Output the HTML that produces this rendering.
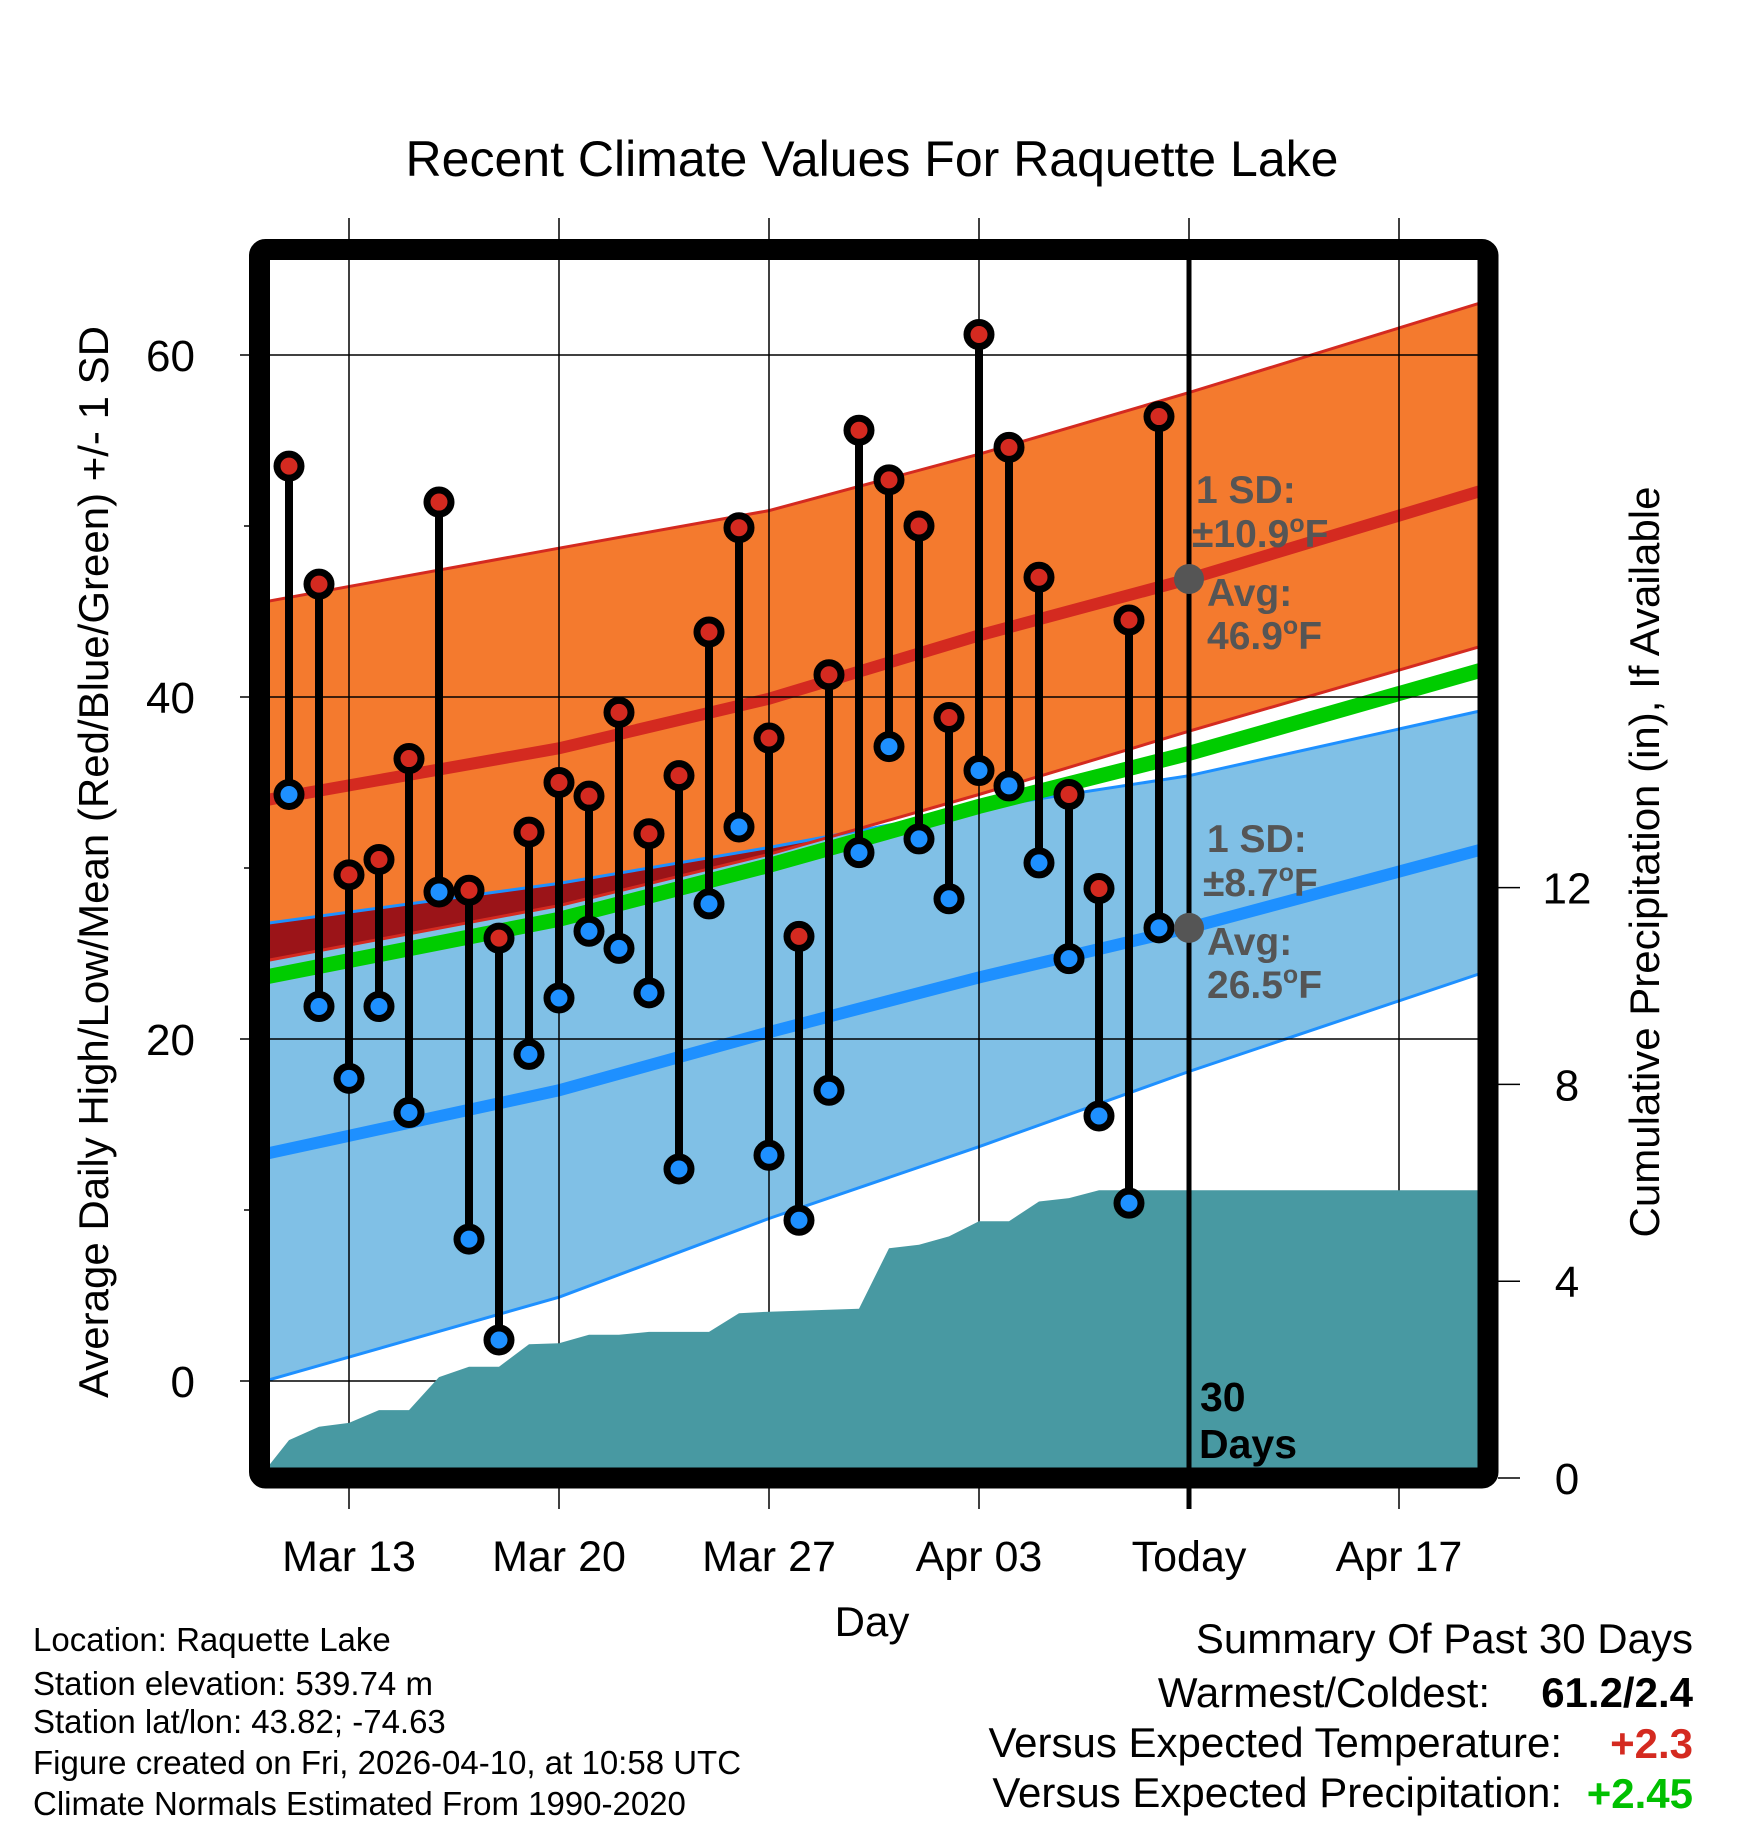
<!DOCTYPE html>
<html><head><meta charset="utf-8">
<style>
html,body{margin:0;padding:0;background:#fff;}
svg{display:block;font-family:"Liberation Sans",Arial,sans-serif;}
</style></head>
<body>
<svg id="chart" width="1748" height="1828" viewBox="0 0 1748 1828" xmlns="http://www.w3.org/2000/svg">
<defs>
<clipPath id="plotClip"><rect x="270" y="260" width="1208" height="1208"/></clipPath>
</defs>
<text x="872" y="176" font-size="50" text-anchor="middle">Recent Climate Values For Raquette Lake</text>
<g id="bands" clip-path="url(#plotClip)"></g>
<g id="grid"></g>
<g id="precip" clip-path="url(#plotClip)"></g>
<g id="today"></g>
<g id="stems"></g>
<g id="annot"></g>
<rect x="259.5" y="249.5" width="1228.5" height="1228.5" rx="6" fill="none" stroke="#000" stroke-width="21"/>
<g id="axes"></g>
<text x="872" y="1636" font-size="42" text-anchor="middle">Day</text>
<text transform="translate(108,862) rotate(-90)" font-size="42" text-anchor="middle">Average Daily High/Low/Mean (Red/Blue/Green) +/- 1 SD</text>
<text transform="translate(1659,862) rotate(-90)" font-size="42" text-anchor="middle">Cumulative Precipitation (in), If Available</text>
<g font-size="33">
<text x="33" y="1651">Location: Raquette Lake</text>
<text x="33" y="1695">Station elevation: 539.74 m</text>
<text x="33" y="1733">Station lat/lon: 43.82; -74.63</text>
<text x="33" y="1774">Figure created on Fri, 2026-04-10, at 10:58 UTC</text>
<text x="33" y="1815">Climate Normals Estimated From 1990-2020</text>
</g>
<g font-size="42">
<text x="1693" y="1653" text-anchor="end">Summary Of Past 30 Days</text>
<text x="1490" y="1707" text-anchor="end">Warmest/Coldest:</text>
<text x="1693" y="1707" text-anchor="end" font-weight="bold">61.2/2.4</text>
<text x="1562" y="1757" text-anchor="end">Versus Expected Temperature:</text>
<text x="1693" y="1758" text-anchor="end" font-weight="bold" fill="#d42a20">+2.3</text>
<text x="1562" y="1807" text-anchor="end">Versus Expected Precipitation:</text>
<text x="1693" y="1808" text-anchor="end" font-weight="bold" fill="#00c000">+2.45</text>
</g>
</svg>
<script>
// ---- data (day offsets relative to Mar 13) ----
const obsDays = [-2,-1,0,1,2,3,4,5,6,7,8,9,10,11,12,13,14,15,16,17,18,19,20,21,22,23,24,25,26,27];
const highs = [53.5,46.6,29.6,30.5,36.4,51.4,28.7,25.9,32.1,35.0,34.2,39.1,32.0,35.4,43.8,49.9,37.6,26.0,41.3,55.6,52.7,50.0,38.8,61.2,54.6,47.0,34.3,28.8,44.5,56.4];
const lows = [34.3,21.9,17.7,21.9,15.7,28.6,8.3,2.4,19.1,22.4,26.3,25.3,22.7,12.4,27.9,32.4,13.2,9.4,17.0,30.9,37.1,31.7,28.2,35.7,34.8,30.3,24.7,15.5,10.4,26.5];
const precip = [0.77,1.04,1.12,1.38,1.38,2.05,2.26,2.26,2.72,2.74,2.91,2.91,2.97,2.97,2.97,3.35,3.38,3.40,3.42,3.44,4.67,4.74,4.91,5.22,5.22,5.62,5.69,5.85,5.85,5.85];
const normDays = [-3,7,14,21,28,38];
const normHigh = [33.9,37.0,39.9,43.6,46.9,52.2];
const highSDUp = [11.6,11.7,11.0,10.6,10.9,11.0];
const highSDDn = [9.4,9.2,9.1,9.3,8.9,9.1];
const normLow = [13.2,17.0,20.4,23.6,26.5,31.2];
const lowSDUp = [13.5,12.1,10.8,9.9,8.9,8.1];
const lowSDDn = [13.3,12.1,10.9,9.9,8.4,7.2];
const xTickDays = [0,7,14,21,28,35];
const xTickLabels = ["Mar 13","Mar 20","Mar 27","Apr 03","Today","Apr 17"];
const yTicks = [0,20,40,60];
const yMinor = [10,30,50];
const y2Ticks = [0,4,8,12];
const todayDay = 28;
const sdLabelHigh = "10.9";
const sdLabelLow = "8.7";

// ---- axis functions ----
const X = d => 349 + 30*d;
const Y = t => 1381 - 17.1*t;
const Y2 = p => 1478 - 49.2*p;
const NS = "http://www.w3.org/2000/svg";
function mk(tag, attrs, parent){ const e=document.createElementNS(NS,tag); for(const k in attrs) e.setAttribute(k,attrs[k]); parent.appendChild(e); return e; }
const pts = (ds, vs) => ds.map((d,i)=>X(d).toFixed(1)+","+Y(vs[i]).toFixed(1));

const bands=document.getElementById('bands');
const hiUp = normHigh.map((v,i)=>v+highSDUp[i]), hiDn = normHigh.map((v,i)=>v-highSDDn[i]);
const loUp = normLow.map((v,i)=>v+lowSDUp[i]), loDn = normLow.map((v,i)=>v-lowSDDn[i]);
const rev = a => a.slice().reverse();
const loPoly = pts(normDays,loUp).concat(rev(pts(normDays,loDn))).join(" ");
const hiPoly = pts(normDays,hiUp).concat(rev(pts(normDays,hiDn))).join(" ");
let e;
e=mk('polygon',{points:loPoly,fill:'#80c0e6'},bands);
 
e=mk('polygon',{points:hiPoly,fill:'#f47a2e'},bands);
 
const cp=mk('clipPath',{id:'hiClip'},document.querySelector('defs'));
mk('polygon',{points:hiPoly},cp);
e=mk('polygon',{points:loPoly,fill:'#9b1418','clip-path':'url(#hiClip)'},bands);
 
[[loUp,'low-sd-upper'],[loDn,'low-sd-lower']].forEach(([a,n])=>{
  e=mk('polyline',{points:pts(normDays,a).join(" "),fill:'none',stroke:'#1e90ff','stroke-width':3},bands);
   
});
[[hiUp,'high-sd-upper'],[hiDn,'high-sd-lower']].forEach(([a,n])=>{
  e=mk('polyline',{points:pts(normDays,a).join(" "),fill:'none',stroke:'#d42a20','stroke-width':3},bands);
   
});
e=mk('polyline',{points:pts(normDays,normLow).join(" "),fill:'none',stroke:'#1e90ff','stroke-width':12},bands);
 
e=mk('polyline',{points:pts(normDays,normHigh).join(" "),fill:'none',stroke:'#d42a20','stroke-width':12},bands);
 
const normMean = normHigh.map((v,i)=>(v+normLow[i])/2);
e=mk('polyline',{points:pts(normDays,normMean).join(" "),fill:'none',stroke:'#00cc00','stroke-width':15},bands);
 

// grid
const grid=document.getElementById('grid');
xTickDays.forEach((d,i)=>{
  e=mk('line',{x1:X(d),x2:X(d),y1:218,y2:1509,stroke:'#000','stroke-width':1.5},grid);
   
});
yTicks.forEach(t=>{
  e=mk('line',{x1:240,x2:1478,y1:Y(t),y2:Y(t),stroke:'#000','stroke-width':1.5},grid);
   
});

// precip
const pr=document.getElementById('precip');
let pp=[X(-3)+","+Y2(0)];
obsDays.forEach((d,i)=>pp.push(X(d)+","+Y2(precip[i]).toFixed(1)));
pp.push(X(40)+","+Y2(precip[precip.length-1]).toFixed(1));
pp.push(X(40)+","+Y2(0));
e=mk('polygon',{points:pp.join(" "),fill:'#4899a2'},pr);
 

// today line
const td=document.getElementById('today');
e=mk('line',{x1:X(todayDay),x2:X(todayDay),y1:260,y2:1509,stroke:'#000','stroke-width':5},td);
 
e=mk('text',{x:1200,y:1411,'font-size':41,'font-weight':'bold'},td); e.textContent='30';
 
e=mk('text',{x:1199,y:1458,'font-size':41,'font-weight':'bold'},td); e.textContent='Days';
 

// stems and points
const st=document.getElementById('stems');
obsDays.forEach((d,i)=>{
  const x=X(d);
  e=mk('line',{x1:x,x2:x,y1:Y(highs[i]),y2:Y(lows[i]),stroke:'#000','stroke-width':8},st);
   
  e=mk('circle',{cx:x,cy:Y(highs[i]),r:12,fill:'#d42a20',stroke:'#000','stroke-width':7},st);
   
  e=mk('circle',{cx:x,cy:Y(lows[i]),r:12,fill:'#1e90ff',stroke:'#000','stroke-width':7},st);
   
});

// annotations
const an=document.getElementById('annot');
const tx=X(todayDay);
const hiT=normHigh[4], loT=normLow[4];
e=mk('circle',{cx:tx,cy:Y(hiT),r:15,fill:'#555'},an);
 
e=mk('circle',{cx:tx,cy:Y(loT),r:15,fill:'#555'},an);
 
function lab(x,y,s,n){ const t=mk('text',{x:x,y:y,'font-size':39,'font-weight':'bold',fill:'#555'},an); t.innerHTML=s;
    }
const deg='<tspan font-size="25" dy="-15">o</tspan><tspan dy="15">F</tspan>';
lab(1196,Y(hiT)-76,'1 SD:','high-sd-label');
lab(1192,Y(hiT)-32,'±'+sdLabelHigh+deg,'high-sd-value');
lab(1207,Y(hiT)+27,'Avg:','high-avg-label');
lab(1207,Y(hiT)+70,hiT.toFixed(1)+deg,'high-avg-value');
lab(1207,Y(loT)-76,'1 SD:','low-sd-label');
lab(1203,Y(loT)-32,'±'+sdLabelLow+deg,'low-sd-value');
lab(1207,Y(loT)+27,'Avg:','low-avg-label');
lab(1207,Y(loT)+70,loT.toFixed(1)+deg,'low-avg-value');

// axes
const ax=document.getElementById('axes');
yTicks.forEach(t=>{
  e=mk('text',{x:195,y:Y(t)+16,'font-size':44,'text-anchor':'end'},ax); e.textContent=t;
   
});
yMinor.forEach(t=>{
  e=mk('line',{x1:244,x2:254,y1:Y(t),y2:Y(t),stroke:'#000','stroke-width':1.5},ax);
   
});
y2Ticks.forEach(p=>{
  e=mk('line',{x1:1498,x2:1520,y1:Y2(p),y2:Y2(p),stroke:'#000','stroke-width':1.5},ax);
   
  e=mk('text',{x:1567,y:Y2(p)+16,'font-size':44,'text-anchor':'middle'},ax); e.textContent=p;
   
});
xTickDays.forEach((d,i)=>{
  e=mk('text',{x:X(d),y:1571,'font-size':43,'text-anchor':'middle'},ax); e.textContent=xTickLabels[i];
   
});
</script>
</body></html>
